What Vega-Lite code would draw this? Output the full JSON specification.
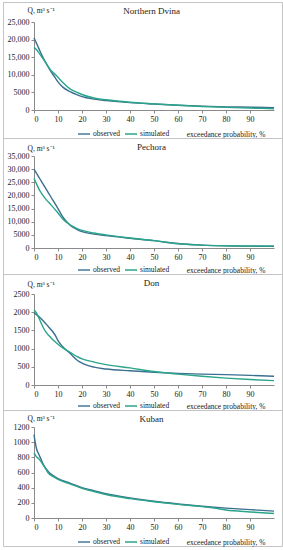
{
"$schema": "https://vega.github.io/schema/vega-lite/v6.json",
"padding": {"left": 2, "top": 1, "right": 2, "bottom": 0},
"spacing": 0,
"bounds": "flush",
"config": {
  "view": {"stroke": "#c4c4c4", "strokeWidth": 1},
  "font": "Liberation Serif",
  "axis": {"labelFont": "Liberation Serif", "titleFont": "Liberation Serif", "labelFontSize": 8, "titleFontSize": 7.5, "titleFontWeight": "normal", "labelColor": "#222", "titleColor": "#222", "domainColor": "#8a8a8a", "tickColor": "#8a8a8a", "tickSize": 3, "grid": false, "labelPadding": 2},
  "legend": {"labelFont": "Liberation Serif", "labelFontSize": 7.5, "labelColor": "#222", "orient": "none", "legendX": 74, "legendY": 128, "direction": "horizontal", "symbolType": "stroke", "symbolSize": 144, "symbolStrokeWidth": 1.5, "columnPadding": 3, "labelOffset": 2, "clipHeight": 8},
  "title": {"font": "Liberation Serif", "fontSize": 9, "fontWeight": "normal", "color": "#222"},
  "line": {"interpolate": "monotone", "strokeWidth": 1.4}
},
"resolve": {"scale": {"x": "independent", "y": "independent", "color": "independent"}, "legend": {"color": "independent"}},
"datasets": {
"flow": [
{"r":"ND","s":"observed","p":0,"q":20500},{"r":"ND","s":"observed","p":1,"q":19000},{"r":"ND","s":"observed","p":2,"q":17500},{"r":"ND","s":"observed","p":3,"q":16000},{"r":"ND","s":"observed","p":5,"q":13300},{"r":"ND","s":"observed","p":7,"q":11000},{"r":"ND","s":"observed","p":9,"q":9000},{"r":"ND","s":"observed","p":10,"q":8000},{"r":"ND","s":"observed","p":12,"q":6500},{"r":"ND","s":"observed","p":15,"q":5200},{"r":"ND","s":"observed","p":18,"q":4300},{"r":"ND","s":"observed","p":20,"q":3800},{"r":"ND","s":"observed","p":25,"q":3100},{"r":"ND","s":"observed","p":30,"q":2700},{"r":"ND","s":"observed","p":40,"q":2100},{"r":"ND","s":"observed","p":50,"q":1700},{"r":"ND","s":"observed","p":60,"q":1350},{"r":"ND","s":"observed","p":70,"q":1100},{"r":"ND","s":"observed","p":80,"q":900},{"r":"ND","s":"observed","p":90,"q":800},{"r":"ND","s":"observed","p":100,"q":650},
{"r":"ND","s":"simulated","p":0,"q":17800},{"r":"ND","s":"simulated","p":1,"q":17200},{"r":"ND","s":"simulated","p":2,"q":16300},{"r":"ND","s":"simulated","p":3,"q":15300},{"r":"ND","s":"simulated","p":5,"q":13300},{"r":"ND","s":"simulated","p":7,"q":11300},{"r":"ND","s":"simulated","p":9,"q":10000},{"r":"ND","s":"simulated","p":10,"q":9300},{"r":"ND","s":"simulated","p":12,"q":7800},{"r":"ND","s":"simulated","p":15,"q":6000},{"r":"ND","s":"simulated","p":18,"q":5000},{"r":"ND","s":"simulated","p":20,"q":4400},{"r":"ND","s":"simulated","p":25,"q":3400},{"r":"ND","s":"simulated","p":30,"q":2900},{"r":"ND","s":"simulated","p":40,"q":2200},{"r":"ND","s":"simulated","p":50,"q":1750},{"r":"ND","s":"simulated","p":60,"q":1350},{"r":"ND","s":"simulated","p":70,"q":1000},{"r":"ND","s":"simulated","p":80,"q":750},{"r":"ND","s":"simulated","p":90,"q":550},{"r":"ND","s":"simulated","p":100,"q":350},
{"r":"PE","s":"observed","p":0,"q":30000},{"r":"PE","s":"observed","p":1,"q":28500},{"r":"PE","s":"observed","p":2,"q":27000},{"r":"PE","s":"observed","p":3,"q":25500},{"r":"PE","s":"observed","p":5,"q":22500},{"r":"PE","s":"observed","p":7,"q":19500},{"r":"PE","s":"observed","p":10,"q":15000},{"r":"PE","s":"observed","p":12,"q":11800},{"r":"PE","s":"observed","p":14,"q":9600},{"r":"PE","s":"observed","p":16,"q":8000},{"r":"PE","s":"observed","p":18,"q":7000},{"r":"PE","s":"observed","p":20,"q":6200},{"r":"PE","s":"observed","p":25,"q":5300},{"r":"PE","s":"observed","p":30,"q":4700},{"r":"PE","s":"observed","p":40,"q":3700},{"r":"PE","s":"observed","p":50,"q":2800},{"r":"PE","s":"observed","p":55,"q":2200},{"r":"PE","s":"observed","p":60,"q":1700},{"r":"PE","s":"observed","p":70,"q":1100},{"r":"PE","s":"observed","p":80,"q":800},{"r":"PE","s":"observed","p":90,"q":700},{"r":"PE","s":"observed","p":100,"q":650},
{"r":"PE","s":"simulated","p":0,"q":26500},{"r":"PE","s":"simulated","p":1,"q":24500},{"r":"PE","s":"simulated","p":2,"q":22500},{"r":"PE","s":"simulated","p":3,"q":21000},{"r":"PE","s":"simulated","p":5,"q":18500},{"r":"PE","s":"simulated","p":7,"q":16500},{"r":"PE","s":"simulated","p":10,"q":13300},{"r":"PE","s":"simulated","p":12,"q":11000},{"r":"PE","s":"simulated","p":14,"q":9500},{"r":"PE","s":"simulated","p":16,"q":8300},{"r":"PE","s":"simulated","p":18,"q":7400},{"r":"PE","s":"simulated","p":20,"q":6700},{"r":"PE","s":"simulated","p":25,"q":5700},{"r":"PE","s":"simulated","p":30,"q":5000},{"r":"PE","s":"simulated","p":40,"q":3800},{"r":"PE","s":"simulated","p":50,"q":2800},{"r":"PE","s":"simulated","p":55,"q":2200},{"r":"PE","s":"simulated","p":60,"q":1600},{"r":"PE","s":"simulated","p":70,"q":1100},{"r":"PE","s":"simulated","p":80,"q":850},{"r":"PE","s":"simulated","p":90,"q":750},{"r":"PE","s":"simulated","p":100,"q":700},
{"r":"DO","s":"observed","p":0,"q":1980},{"r":"DO","s":"observed","p":2,"q":1880},{"r":"DO","s":"observed","p":4,"q":1750},{"r":"DO","s":"observed","p":6,"q":1600},{"r":"DO","s":"observed","p":8,"q":1450},{"r":"DO","s":"observed","p":9,"q":1350},{"r":"DO","s":"observed","p":10,"q":1220},{"r":"DO","s":"observed","p":12,"q":1050},{"r":"DO","s":"observed","p":15,"q":870},{"r":"DO","s":"observed","p":18,"q":680},{"r":"DO","s":"observed","p":20,"q":600},{"r":"DO","s":"observed","p":25,"q":490},{"r":"DO","s":"observed","p":30,"q":440},{"r":"DO","s":"observed","p":40,"q":390},{"r":"DO","s":"observed","p":50,"q":350},{"r":"DO","s":"observed","p":60,"q":320},{"r":"DO","s":"observed","p":70,"q":300},{"r":"DO","s":"observed","p":80,"q":285},{"r":"DO","s":"observed","p":90,"q":265},{"r":"DO","s":"observed","p":100,"q":240},
{"r":"DO","s":"simulated","p":0,"q":2060},{"r":"DO","s":"simulated","p":1,"q":1980},{"r":"DO","s":"simulated","p":2,"q":1850},{"r":"DO","s":"simulated","p":3,"q":1700},{"r":"DO","s":"simulated","p":4,"q":1560},{"r":"DO","s":"simulated","p":5,"q":1450},{"r":"DO","s":"simulated","p":7,"q":1300},{"r":"DO","s":"simulated","p":10,"q":1120},{"r":"DO","s":"simulated","p":12,"q":1020},{"r":"DO","s":"simulated","p":15,"q":900},{"r":"DO","s":"simulated","p":18,"q":780},{"r":"DO","s":"simulated","p":20,"q":720},{"r":"DO","s":"simulated","p":25,"q":630},{"r":"DO","s":"simulated","p":30,"q":560},{"r":"DO","s":"simulated","p":40,"q":470},{"r":"DO","s":"simulated","p":50,"q":370},{"r":"DO","s":"simulated","p":60,"q":300},{"r":"DO","s":"simulated","p":70,"q":240},{"r":"DO","s":"simulated","p":80,"q":190},{"r":"DO","s":"simulated","p":90,"q":150},{"r":"DO","s":"simulated","p":100,"q":120},
{"r":"KU","s":"observed","p":0,"q":1100},{"r":"KU","s":"observed","p":0.5,"q":1000},{"r":"KU","s":"observed","p":1,"q":920},{"r":"KU","s":"observed","p":2,"q":840},{"r":"KU","s":"observed","p":3,"q":770},{"r":"KU","s":"observed","p":4,"q":700},{"r":"KU","s":"observed","p":5,"q":650},{"r":"KU","s":"observed","p":6,"q":610},{"r":"KU","s":"observed","p":8,"q":560},{"r":"KU","s":"observed","p":10,"q":520},{"r":"KU","s":"observed","p":15,"q":460},{"r":"KU","s":"observed","p":20,"q":400},{"r":"KU","s":"observed","p":25,"q":360},{"r":"KU","s":"observed","p":30,"q":320},{"r":"KU","s":"observed","p":40,"q":265},{"r":"KU","s":"observed","p":50,"q":220},{"r":"KU","s":"observed","p":60,"q":185},{"r":"KU","s":"observed","p":70,"q":155},{"r":"KU","s":"observed","p":80,"q":130},{"r":"KU","s":"observed","p":90,"q":110},{"r":"KU","s":"observed","p":100,"q":90},
{"r":"KU","s":"simulated","p":0,"q":860},{"r":"KU","s":"simulated","p":1,"q":810},{"r":"KU","s":"simulated","p":2,"q":780},{"r":"KU","s":"simulated","p":3,"q":740},{"r":"KU","s":"simulated","p":4,"q":690},{"r":"KU","s":"simulated","p":5,"q":640},{"r":"KU","s":"simulated","p":6,"q":590},{"r":"KU","s":"simulated","p":8,"q":545},{"r":"KU","s":"simulated","p":10,"q":510},{"r":"KU","s":"simulated","p":15,"q":450},{"r":"KU","s":"simulated","p":20,"q":390},{"r":"KU","s":"simulated","p":25,"q":350},{"r":"KU","s":"simulated","p":30,"q":310},{"r":"KU","s":"simulated","p":40,"q":255},{"r":"KU","s":"simulated","p":50,"q":215},{"r":"KU","s":"simulated","p":60,"q":180},{"r":"KU","s":"simulated","p":70,"q":150},{"r":"KU","s":"simulated","p":75,"q":130},{"r":"KU","s":"simulated","p":80,"q":105},{"r":"KU","s":"simulated","p":90,"q":80},{"r":"KU","s":"simulated","p":100,"q":60}
]},
"data": {"name": "flow"},
"vconcat": [
{
 "width": 279, "height": 136,
 "title": {"text": "Northern Dvina", "offset": -14, "dx": 9},
 "transform": [{"filter": "datum.r === 'ND'"}],
 "mark": "line",
 "encoding": {
  "x": {"field": "p", "type": "quantitative", "scale": {"domain": [0, 100], "range": [31, 271], "nice": false},
        "axis": {"offset": -28, "values": [0,10,20,30,40,50,60,70,80,90], "title": "exceedance probability, %", "titleAnchor": "end", "titleX": 262, "titleY": 24, "titleBaseline": "middle"}},
  "y": {"field": "q", "type": "quantitative", "scale": {"domain": [0, 25000], "range": [108, 20], "nice": false},
        "axis": {"offset": -31, "values": [0,5000,10000,15000,20000,25000], "labelExpr": "datum.value >= 10000 ? format(datum.value, ',') : format(datum.value, 'd')", "title": "Q, m³ s⁻¹", "titleAngle": 0, "titleAlign": "left", "titleBaseline": "middle", "titleX": -7, "titleY": 8}},
  "color": {"field": "s", "type": "nominal", "scale": {"domain": ["observed", "simulated"], "range": ["#3a6f90", "#2aa58a"]}, "legend": {"title": null}}
 }
},
{
 "width": 279, "height": 136,
 "title": {"text": "Pechora", "offset": -14, "dx": 9},
 "transform": [{"filter": "datum.r === 'PE'"}],
 "mark": "line",
 "encoding": {
  "x": {"field": "p", "type": "quantitative", "scale": {"domain": [0, 100], "range": [31, 271], "nice": false},
        "axis": {"offset": -26, "values": [0,10,20,30,40,50,60,70,80,90], "title": "exceedance probability, %", "titleAnchor": "end", "titleX": 262, "titleY": 22, "titleBaseline": "middle"}},
  "y": {"field": "q", "type": "quantitative", "scale": {"domain": [0, 35000], "range": [110, 18], "nice": false},
        "axis": {"offset": -31, "values": [0,5000,10000,15000,20000,25000,30000,35000], "labelExpr": "datum.value >= 10000 ? format(datum.value, ',') : format(datum.value, 'd')", "title": "Q, m³ s⁻¹", "titleAngle": 0, "titleAlign": "left", "titleBaseline": "middle", "titleX": -7, "titleY": 10}},
  "color": {"field": "s", "type": "nominal", "scale": {"domain": ["observed", "simulated"], "range": ["#3a6f90", "#2aa58a"]}, "legend": {"title": null}}
 }
},
{
 "width": 279, "height": 136,
 "title": {"text": "Don", "offset": -14, "dx": 9},
 "transform": [{"filter": "datum.r === 'DO'"}],
 "mark": "line",
 "encoding": {
  "x": {"field": "p", "type": "quantitative", "scale": {"domain": [0, 100], "range": [31, 271], "nice": false},
        "axis": {"offset": -25, "values": [0,10,20,30,40,50,60,70,80,90], "title": "exceedance probability, %", "titleAnchor": "end", "titleX": 262, "titleY": 21, "titleBaseline": "middle"}},
  "y": {"field": "q", "type": "quantitative", "scale": {"domain": [0, 2500], "range": [111, 20], "nice": false},
        "axis": {"offset": -31, "values": [0,500,1000,1500,2000,2500], "labelExpr": "format(datum.value, 'd')", "title": "Q, m³ s⁻¹", "titleAngle": 0, "titleAlign": "left", "titleBaseline": "middle", "titleX": -7, "titleY": 10}},
  "color": {"field": "s", "type": "nominal", "scale": {"domain": ["observed", "simulated"], "range": ["#3a6f90", "#2aa58a"]}, "legend": {"title": null}}
 }
},
{
 "width": 279, "height": 136,
 "title": {"text": "Kuban", "offset": -14, "dx": 9},
 "transform": [{"filter": "datum.r === 'KU'"}],
 "mark": "line",
 "encoding": {
  "x": {"field": "p", "type": "quantitative", "scale": {"domain": [0, 100], "range": [31, 271], "nice": false},
        "axis": {"offset": -28, "values": [0,10,20,30,40,50,60,70,80,90], "title": "exceedance probability, %", "titleAnchor": "end", "titleX": 262, "titleY": 24, "titleBaseline": "middle"}},
  "y": {"field": "q", "type": "quantitative", "scale": {"domain": [0, 1200], "range": [108, 17], "nice": false},
        "axis": {"offset": -31, "values": [0,200,400,600,800,1000,1200], "labelExpr": "format(datum.value, 'd')", "title": "Q, m³ s⁻¹", "titleAngle": 0, "titleAlign": "left", "titleBaseline": "middle", "titleX": -7, "titleY": 8}},
  "color": {"field": "s", "type": "nominal", "scale": {"domain": ["observed", "simulated"], "range": ["#3a6f90", "#2aa58a"]}, "legend": {"title": null}}
 }
}
]
}
